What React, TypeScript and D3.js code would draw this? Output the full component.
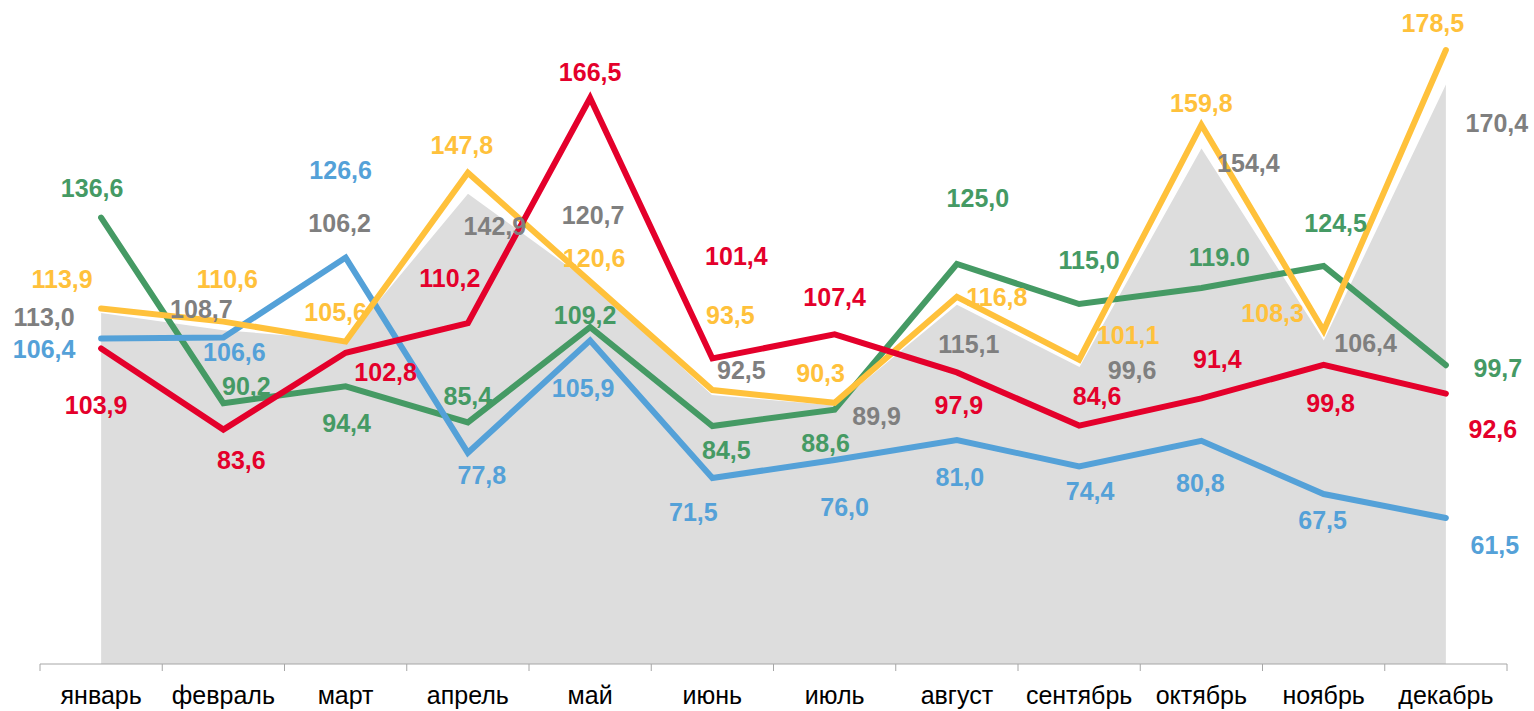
import * as d3 from "d3";

const months = [
  "январь", "февраль", "март", "апрель", "май", "июнь",
  "июль", "август", "сентябрь", "октябрь", "ноябрь", "декабрь",
];

const grayValues = [113.0, 108.7, 106.2, 142.9, 120.7, 92.5, 89.9, 115.1, 99.6, 154.4, 106.4, 170.4];
const greenValues = [136.6, 90.2, 94.4, 85.4, 109.2, 84.5, 88.6, 125.0, 115.0, 119.0, 124.5, 99.7];
const yellowValues = [113.9, 110.6, 105.6, 147.8, 120.6, 93.5, 90.3, 116.8, 101.1, 159.8, 108.3, 178.5];
const redValues = [103.9, 83.6, 102.8, 110.2, 166.5, 101.4, 107.4, 97.9, 84.6, 91.4, 99.8, 92.6];
const blueValues = [106.4, 106.6, 126.6, 77.8, 105.9, 71.5, 76.0, 81.0, 74.4, 80.8, 67.5, 61.5];

// one label in the source is written with a dot
const greenLabelOverrides: Record<number, string> = { 9: "119.0" };

// label placement relative to its point [dx, dy]
const grayOffsets = [[-57, 5], [-22, -20], [-6, -116], [27, 34], [3, -66], [29, -24], [42, 12], [12, 40], [53, 4], [47, 17], [42, 5], [51, 41]];
const greenOffsets = [[-9, -30], [23, -17], [1, 37], [0, -26], [-5, -12], [14, 24], [-9, 33], [21, -66], [10, -44], [18, -31], [12, -43], [52, 3]];
const yellowOffsets = [[-39, -29], [4, -43], [-10, -30], [-6, -28], [4, -24], [18, -75], [-14, -30], [40, 0], [49, -25], [0, -22], [-51, -18], [-13, -27]];
const redOffsets = [[-5, 57], [18, 30], [40, 19], [-18, -45], [0, -26], [24, -102], [0, -37], [2, 33], [18, -30], [16, -39], [7, 38], [47, 35]];
const blueOffsets = [[-57, 11], [11, 14], [-5, -88], [14, 22], [-7, 48], [-19, 34], [10, 47], [3, 37], [11, 25], [-1, 42], [-1, 26], [49, 27]];

const W = 1534;
const H = 711;
const FONT = "Arial, 'Liberation Sans', sans-serif";

const x = d3.scaleBand<string>().domain(months).range([40, 1507]);
const cx = (m: string) => x(m)! + x.bandwidth() / 2;
const y = d3.scaleLinear().domain([25, 180]).range([664, 44]);

const fmt = (v: number) => d3.format(".1f")(v).replace(".", ",");

const series = [
  { key: "green", values: greenValues, color: "#459a64" },
  { key: "blue", values: blueValues, color: "#54a1d8" },
  { key: "yellow", values: yellowValues, color: "#ffc13b" },
  { key: "red", values: redValues, color: "#e4002b" },
];

export default function App() {
  const line = d3
    .line<number>()
    .x((_, i) => cx(months[i]))
    .y((d) => y(d));

  const area = d3
    .area<number>()
    .x((_, i) => cx(months[i]))
    .y0(y(25))
    .y1((d) => y(d));

  const ticks = d3.range(months.length + 1).map((i) => 40 + i * x.bandwidth());

  const labelSets = [
    { values: grayValues, color: "#7f7f7f", offsets: grayOffsets, overrides: {} as Record<number, string> },
    { values: greenValues, color: "#459a64", offsets: greenOffsets, overrides: greenLabelOverrides },
    { values: yellowValues, color: "#ffc13b", offsets: yellowOffsets, overrides: {} },
    { values: redValues, color: "#e4002b", offsets: redOffsets, overrides: {} },
    { values: blueValues, color: "#54a1d8", offsets: blueOffsets, overrides: {} },
  ];

  return (
    <svg
      width={W}
      height={H}
      style={{ position: "absolute", left: 0, top: 0, background: "#fff" }}
      fontFamily={FONT}
    >
      <path d={area(grayValues)!} fill="#dddddd" />
      <path d={line(grayValues)!} fill="none" stroke="#fff" strokeWidth={2} />

      {/* category axis */}
      <line x1={40} x2={1507} y1={664} y2={664} stroke="#a6a6a6" strokeWidth={1} />
      {ticks.map((t, i) => (
        <line key={i} x1={t} x2={t} y1={664} y2={671} stroke="#a6a6a6" strokeWidth={1} />
      ))}
      {months.map((m) => (
        <text key={m} x={cx(m)} y={704} textAnchor="middle" fontSize={25} fill="#000">
          {m}
        </text>
      ))}

      {series.map((s) => (
        <path
          key={s.key}
          d={line(s.values)!}
          fill="none"
          stroke={s.color}
          strokeWidth={6}
          strokeLinecap="round"
          strokeLinejoin="miter"
        />
      ))}

      {labelSets.map((s, si) =>
        s.values.map((v, i) => (
          <text
            key={`${si}-${i}`}
            x={cx(months[i]) + s.offsets[i][0]}
            y={y(v) + s.offsets[i][1]}
            dy="0.36em"
            textAnchor="middle"
            fontSize={25}
            fontWeight="bold"
            fill={s.color}
          >
            {s.overrides[i] ?? fmt(v)}
          </text>
        ))
      )}
    </svg>
  );
}
